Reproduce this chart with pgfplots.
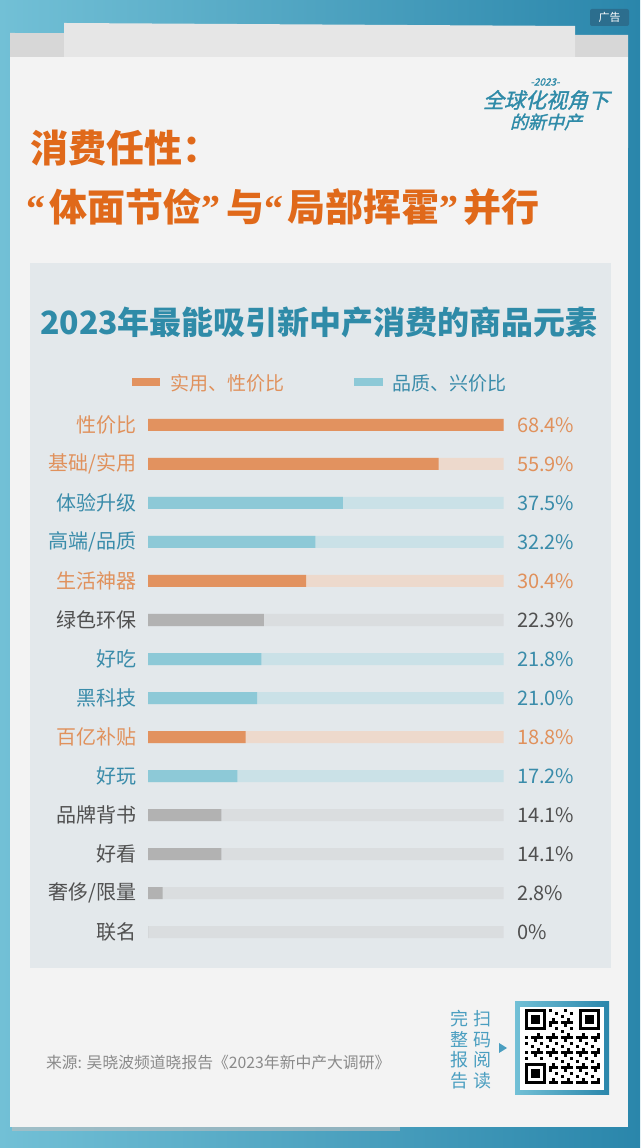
\documentclass[border=0pt]{standalone}
\usepackage{pgfplots}
\pgfplotsset{compat=1.18}
\usepackage{fontspec}
\setmainfont{Noto Sans CJK SC}
\newfontfamily\logofont[FakeSlant=0.25,FakeBold=1.5]{Noto Sans CJK SC}
\newfontfamily\qf{Liberation Serif}
\definecolor{bgL}{HTML}{72C0D6}
\definecolor{bgR}{HTML}{2A86AB}
\definecolor{card}{HTML}{F3F3F3}
\definecolor{sheetBack}{HTML}{D7D7D7}
\definecolor{sheetMid}{HTML}{E6E6E6}
\definecolor{panel}{HTML}{E3E8EB}
\definecolor{titleO}{HTML}{E0691A}
\definecolor{chartT}{HTML}{2F8BA8}
\definecolor{barO}{HTML}{E2925F}
\definecolor{trackO}{HTML}{EDD9CC}
\definecolor{barT}{HTML}{8DC9D7}
\definecolor{trackT}{HTML}{CAE1E7}
\definecolor{barG}{HTML}{B2B2B2}
\definecolor{trackG}{HTML}{DADDDF}
\definecolor{txtO}{HTML}{E0915C}
\definecolor{txtT}{HTML}{3A8CAA}
\definecolor{txtG}{HTML}{505050}
\definecolor{srcG}{HTML}{8A8A8A}
\definecolor{adBox}{HTML}{2C6E8E}
\definecolor{qrT}{HTML}{4A9EC0}
\tikzset{lab/.style={anchor=east, xshift=-12pt, font=\fontsize{20}{20}\selectfont},
  val/.style={anchor=west, xshift=13.5pt, font=\fontsize{20}{20}\selectfont}}
\newcommand{\lqm}{{\qf\bfseries “}}
\newcommand{\rqm}{{\qf\bfseries ”}}
\begin{document}
\begin{tikzpicture}[x=1pt,y=1pt,every node/.style={inner sep=0pt,outer sep=0pt}]
\useasboundingbox (0,0) rectangle (640,1148);
% background
\shade[left color=bgL, right color=bgR] (0,0) rectangle (640,1148);
% paper sheets
\fill[black!25,opacity=0.6] (12,17) rectangle (400,21);
\fill[sheetBack] (10,1115) -- (628,1113) -- (628,1000) -- (10,1000) -- cycle;
\fill[sheetMid] (64,1125) -- (575,1122) -- (575,1000) -- (64,1000) -- cycle;
\fill[card] (10,21) rectangle (628,1091);
% ad label
\fill[adBox, rounded corners=2pt] (590,1122) rectangle (629,1139);
\node[text=white, font=\fontsize{11}{11}\selectfont] at (609.5,1130.5) {广告};
% logo
\node[text=chartT, font=\fontsize{10}{10}\selectfont\logofont] at (545,1066) {-2023-};
\node[text=chartT, font=\fontsize{21}{21}\selectfont\logofont] at (546,1048) {全球化视角下};
\node[text=chartT, font=\fontsize{18}{18}\selectfont\logofont] at (546,1026) {的新中产};
% titles
\node[anchor=west, text=titleO, font=\fontsize{38}{38}\selectfont\bfseries] at (30,1000) {消费任性：};
\node[anchor=west, text=titleO, font=\fontsize{38}{38}\selectfont\bfseries] at (27,941) {\lqm\hspace{4pt}体面节俭\rqm\hspace{5pt}与\lqm\hspace{4pt}局部挥霍\rqm\hspace{5pt}并行};
% panel
\fill[panel] (30,180) rectangle (611,885);
\node[text=chartT, font=\fontsize{32}{32}\selectfont\bfseries] at (319,826) {2023年最能吸引新中产消费的商品元素};
% legend
\fill[barO] (132,762) rectangle (160,770);
\node[anchor=west, text=txtO, font=\fontsize{19}{19}\selectfont] at (170,765) {实用、性价比};
\fill[barT] (354,762) rectangle (383,770);
\node[anchor=west, text=txtT, font=\fontsize{19}{19}\selectfont] at (392,765) {品质、兴价比};
% chart
\coordinate (axpos) at (148,742.5);
\begin{axis}[at={(axpos)}, anchor=north west, scale only axis,
  width=355.5pt, height=546pt, xmin=0, xmax=68.4, ymin=-0.5, ymax=13.5,
  y dir=reverse, hide axis, xbar, bar width=12pt, bar shift=0pt, clip=false]
% tracks
\addplot[draw=none, fill=trackO] coordinates {(68.4,0) (68.4,1) (68.4,4) (68.4,8)};
\addplot[draw=none, fill=trackT] coordinates {(68.4,2) (68.4,3) (68.4,6) (68.4,7) (68.4,9)};
\addplot[draw=none, fill=trackG] coordinates {(68.4,5) (68.4,10) (68.4,11) (68.4,12) (68.4,13)};
% values
\addplot[draw=none, fill=barO] coordinates {(68.4,0) (55.9,1) (30.4,4) (18.8,8)};
\addplot[draw=none, fill=barT] coordinates {(37.5,2) (32.2,3) (21.8,6) (21.0,7) (17.2,9)};
\addplot[draw=none, fill=barG] coordinates {(22.3,5) (14.1,10) (14.1,11) (2.8,12) (0,13)};
% labels
\node[lab, text=txtO] at (axis cs:0,0) {性价比};
\node[lab, text=txtO] at (axis cs:0,1) {基础/实用};
\node[lab, text=txtT] at (axis cs:0,2) {体验升级};
\node[lab, text=txtT] at (axis cs:0,3) {高端/品质};
\node[lab, text=txtO] at (axis cs:0,4) {生活神器};
\node[lab, text=txtG] at (axis cs:0,5) {绿色环保};
\node[lab, text=txtT] at (axis cs:0,6) {好吃};
\node[lab, text=txtT] at (axis cs:0,7) {黑科技};
\node[lab, text=txtO] at (axis cs:0,8) {百亿补贴};
\node[lab, text=txtT] at (axis cs:0,9) {好玩};
\node[lab, text=txtG] at (axis cs:0,10) {品牌背书};
\node[lab, text=txtG] at (axis cs:0,11) {好看};
\node[lab, text=txtG] at (axis cs:0,12) {奢侈/限量};
\node[lab, text=txtG] at (axis cs:0,13) {联名};
\node[val, text=txtO] at (axis cs:68.4,0) {68.4\%};
\node[val, text=txtO] at (axis cs:68.4,1) {55.9\%};
\node[val, text=txtT] at (axis cs:68.4,2) {37.5\%};
\node[val, text=txtT] at (axis cs:68.4,3) {32.2\%};
\node[val, text=txtO] at (axis cs:68.4,4) {30.4\%};
\node[val, text=txtG] at (axis cs:68.4,5) {22.3\%};
\node[val, text=txtT] at (axis cs:68.4,6) {21.8\%};
\node[val, text=txtT] at (axis cs:68.4,7) {21.0\%};
\node[val, text=txtO] at (axis cs:68.4,8) {18.8\%};
\node[val, text=txtT] at (axis cs:68.4,9) {17.2\%};
\node[val, text=txtG] at (axis cs:68.4,10) {14.1\%};
\node[val, text=txtG] at (axis cs:68.4,11) {14.1\%};
\node[val, text=txtG] at (axis cs:68.4,12) {2.8\%};
\node[val, text=txtG] at (axis cs:68.4,13) {0\%};
\end{axis}
% footer
\node[anchor=west, text=srcG, font=\fontsize{15.8}{15.8}\selectfont] at (46,85) {来源: 吴晓波频道晓报告《2023年新中产大调研》};
\node[text=qrT, align=center, font=\fontsize{18}{20.5}\selectfont] at (459,98.5) {完\\整\\报\\告};
\node[text=qrT, align=center, font=\fontsize{18}{20.5}\selectfont] at (482,98.5) {扫\\码\\阅\\读};
\fill[qrT] (499,95) -- (499,105) -- (507,100) -- cycle;
% QR code decoration
\shade[left color=bgL, right color=bgR] (515,53) rectangle (609,146);
\fill[white] (520,58) rectangle (604,141);
\foreach \i in {0,...,24}{\foreach \j in {0,...,24}{
  \pgfmathtruncatemacro{\v}{mod(\i*\i*7+\j*\j*5+\i*\j*3+\i+2*\j,5)}
  \pgfmathtruncatemacro{\skipit}{or(or(and(\i<8,\j<8),and(\i<8,\j>16)),and(\i>16,\j>16))}
  \ifnum\skipit=0 \ifnum\v<2 \fill[black] (525+3*\i,64+3*\j) rectangle ++(3,3);\fi\fi
}}
\foreach \x/\y in {525/118,579/118,525/64}{
  \fill[black] (\x,\y) rectangle ++(21,21);
  \fill[white] (\x+3,\y+3) rectangle ++(15,15);
  \fill[black] (\x+6,\y+6) rectangle ++(9,9);
}
\end{tikzpicture}
\end{document}
